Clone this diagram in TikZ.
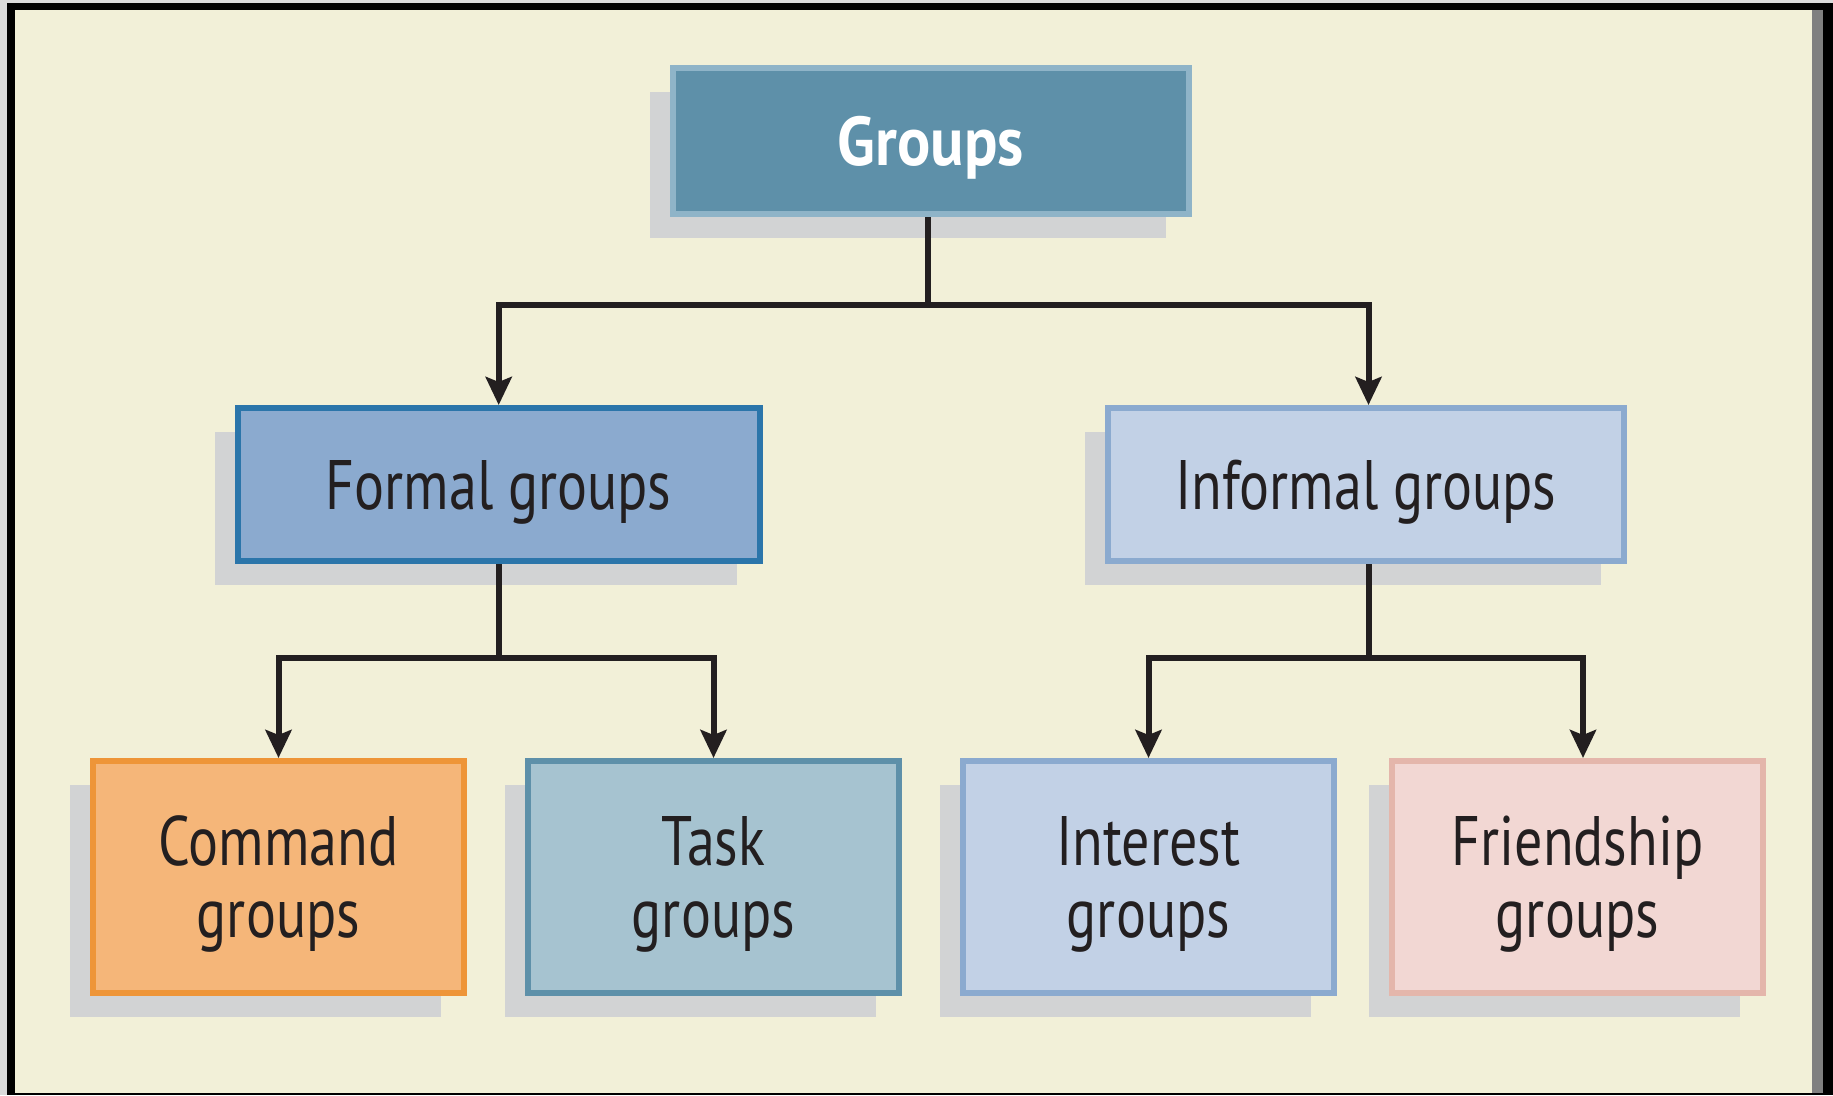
\documentclass[tikz,border=0pt]{standalone}
\usepackage{fontspec}
\setmainfont{PT Sans}[FakeStretch=0.8, BoldFeatures={FakeStretch=0.9}]
\usetikzlibrary{arrows.meta,shadows}

\definecolor{paper}{HTML}{F2F0D8}
\definecolor{margin}{HTML}{DADADA}
\definecolor{rim}{HTML}{808080}
\definecolor{shade}{HTML}{D2D3D4}
\definecolor{ink}{HTML}{231F20}
\definecolor{topfill}{HTML}{5E90A9}
\definecolor{topline}{HTML}{8FB4C8}
\definecolor{formfill}{HTML}{8BAACF}
\definecolor{formline}{HTML}{2B75AA}
\definecolor{paleblue}{HTML}{C2D1E6}
\definecolor{paleline}{HTML}{8BAACF}
\definecolor{cmdfill}{HTML}{F5B679}
\definecolor{cmdline}{HTML}{EE9538}
\definecolor{taskfill}{HTML}{A6C3D0}
\definecolor{taskline}{HTML}{5E90A9}
\definecolor{pinkfill}{HTML}{F2D7D3}
\definecolor{pinkline}{HTML}{E4B6AB}

\tikzset{
  box/.style={draw, line width=6pt, inner sep=0pt, align=center, text=ink,
    font=\fontsize{70}{72}\selectfont,
    general shadow={fill=shade, shadow xshift=-23pt, shadow yshift=-24pt}},
  midbox/.style={box, minimum height=153pt, text height=49pt, text depth=0pt},
  leafbox/.style={box, minimum width=371pt, minimum height=232pt, text depth=0pt},
  link/.style={draw=ink, line width=6pt},
  arrowlink/.style={link, -{Stealth[length=28pt, width=26pt, inset=5pt]}}
}

\begin{document}
\begin{tikzpicture}[x=1pt, y=-1pt]
  % page, frame and background
  \fill[margin] (0,0) rectangle (1833,1095);
  \fill[black] (7,3) rectangle (1833,1095);
  \fill[paper] (15,10) rectangle (1812,1093);
  \fill[rim] (1812,10) rectangle (1823,1093);
  \useasboundingbox (0,0) rectangle (1833,1095);

  % boxes
  \node[box, fill=topfill, draw=topline, text=white,
        minimum width=516pt, minimum height=146pt, text height=48pt, text depth=0pt,
        font=\fontsize{69}{72}\selectfont\bfseries] (groups) at (931,141) {Groups};

  \node[midbox, fill=formfill, draw=formline, minimum width=522pt] (formal) at (498.7,484.5) {Formal groups};
  \node[midbox, fill=paleblue, draw=paleline, minimum width=516pt] (informal) at (1366,484.5) {Informal groups};

  \node[leafbox, fill=cmdfill, draw=cmdline] (command) at (278.5,877) {Command\\groups};
  \node[leafbox, fill=taskfill, draw=taskline] (task) at (713.5,877) {Task\\groups};
  \node[leafbox, fill=paleblue, draw=paleline] (interest) at (1148.5,877) {Interest\\groups};
  \node[leafbox, fill=pinkfill, draw=pinkline] (friend) at (1577.5,877) {Friendship\\groups};

  % junctions of the tree
  \coordinate (j1) at (928,305);
  \coordinate (j2) at (498.7,658);
  \coordinate (j3) at (1368.5,658);

  % connectors
  \draw[link] (j1 |- groups.south) -- (j1);
  \draw[arrowlink] (j1) -| (formal.north);
  \draw[arrowlink] (j1) -| ([xshift=2.5pt]informal.north);

  \draw[link] (formal.south) -- (j2);
  \draw[arrowlink] (j2) -| (command.north);
  \draw[arrowlink] (j2) -| (task.north);

  \draw[link] (j3 |- informal.south) -- (j3);
  \draw[arrowlink] (j3) -| (interest.north);
  \draw[arrowlink] (j3) -| ([xshift=5.5pt]friend.north);
\end{tikzpicture}
\end{document}
